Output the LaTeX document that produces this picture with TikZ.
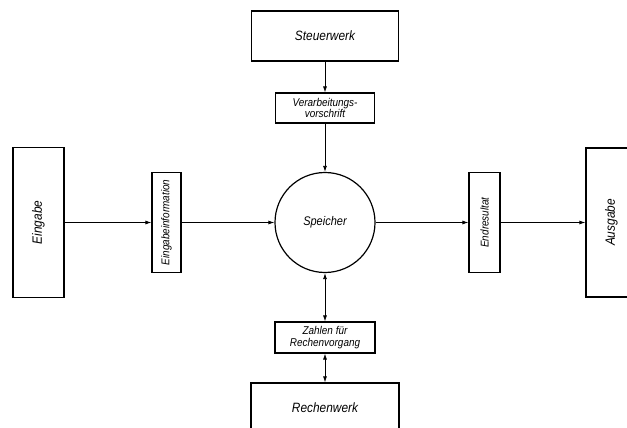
\documentclass[tikz,border=0pt]{standalone}
\usepackage{fontspec}
\setmainfont{Liberation Sans}[FakeStretch=0.88]
\usetikzlibrary{arrows.meta}

\begin{document}
\begin{tikzpicture}[
    x=1pt, y=-1pt,
    unit/.style={rectangle, draw, line width=1.2pt, inner sep=0pt, font=\itshape\fontsize{13.5}{15}\selectfont},
    part/.style={rectangle, draw, line width=1.1pt, inner sep=0pt, align=center,
                 font=\itshape\fontsize{11.3}{11.5}\selectfont},
    arrow/.style={-{Latex[length=6pt, width=4pt]}, line width=0.8pt},
    both/.style={{Latex[length=6pt, width=4pt]}-{Latex[length=6pt, width=4pt]}, line width=0.8pt}
]
    \useasboundingbox (0,0) rectangle (627,428);
    \node[circle, draw, line width=1.2pt, minimum size=100pt, inner sep=0pt,
          font=\itshape\fontsize{12.5}{14}\selectfont] (sp) at (325,222.5) {Speicher};
    \node[unit, minimum width=147pt, minimum height=50pt] (steuer) at (325,36) {Steuerwerk};
    \node[part, minimum width=99pt, minimum height=30pt] (vor) at (325,108) {Verarbeitungs-\\vorschrift};
    \node[part, minimum width=100pt, minimum height=31pt] (zahl) at (325,337.5) {Zahlen für\\Rechenvorgang};
    \node[unit, minimum width=148pt, minimum height=50pt] (rechen) at (325,408) {Rechenwerk};
    \node[unit, rotate=90, minimum width=150pt, minimum height=51pt] (ein) at (38.5,222.5) {Eingabe};
    \node[part, rotate=90, minimum width=100pt, minimum height=29pt] (einf) at (166.5,222.5) {Eingabeinformation};
    \node[part, rotate=90, minimum width=100pt, minimum height=31pt] (end) at (484.5,222.5) {Endresultat};
    \node[unit, rotate=90, minimum width=149pt, minimum height=51pt] (aus) at (611.5,222.5) {Ausgabe};
    \draw[arrow] (ein) -- (einf); \draw[arrow] (einf) -- (sp);
    \draw[arrow] (sp) -- (end); \draw[arrow] (end) -- (aus);
    \draw[arrow] (steuer) -- (vor); \draw[arrow] (vor) -- (sp);
    \draw[both] (sp) -- (zahl); \draw[both] (zahl) -- (rechen);
\end{tikzpicture}
\end{document}
